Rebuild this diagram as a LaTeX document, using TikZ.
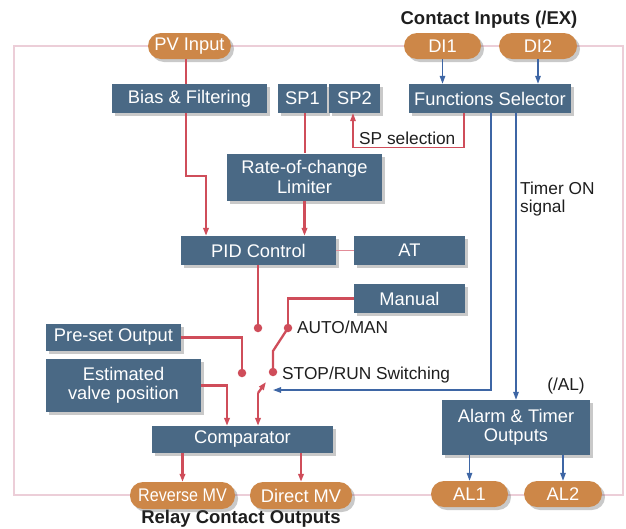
\documentclass[tikz,border=0pt]{standalone}
\usepackage{fontspec}
\setmainfont{Liberation Sans}
\usetikzlibrary{arrows.meta,shadows}
\definecolor{boxc}{RGB}{74,105,133}
\definecolor{pillc}{RGB}{205,135,72}
\definecolor{redc}{RGB}{207,77,90}
\definecolor{pinkc}{RGB}{226,140,152}
\definecolor{bluec}{RGB}{62,102,165}
\definecolor{framec}{RGB}{236,206,216}
\definecolor{labc}{RGB}{30,30,30}
\begin{document}
\begin{tikzpicture}[x=1pt,y=-1pt,
  shad/.style={drop shadow={shadow xshift=3pt,shadow yshift=-3pt,opacity=0.3,fill=black!70}},
  box/.style={shad,fill=boxc,text=white,font=\fontsize{18.3}{19.5}\selectfont,inner sep=0pt,align=center},
  pill/.style={shad,fill=pillc,text=white,font=\fontsize{18.3}{19.5}\selectfont,inner sep=0pt,rounded corners=13pt,minimum height=26pt},
  lab/.style={text=labc,font=\fontsize{17.3}{18}\selectfont,inner sep=0pt},
  ttl/.style={text=labc,font=\fontsize{18.5}{19}\selectfont\bfseries,inner sep=0pt},
  redl/.style={draw=redc,line width=2.3pt},
  redthin/.style={draw=redc,line width=1.4pt},
  pinkl/.style={draw=pinkc,line width=1.4pt},
  bluel/.style={draw=bluec,line width=1.4pt},
  framel/.style={draw=framec,line width=2pt},
  arr/.style={-{Triangle[length=8pt,width=5.5pt]}},
  dotn/.style={circle,fill=redc,inner sep=0pt,minimum size=8.5pt}
]
\useasboundingbox (0,0) rectangle (626,528);
% outer frame
\draw[framel] (14,46) rectangle (623,495);

% titles
\node[ttl] (ci) at (489,20) {Contact Inputs (/EX)};
\node[ttl] (rco) at (241,519) {Relay Contact Outputs};

% pills
\node[pill,minimum width=83pt] (pv) at (189.5,46) {PV Input};
\node[pill,minimum width=77pt] (di1) at (442.5,46) {DI1};
\node[pill,minimum width=78pt] (di2) at (538,46) {DI2};
\node[pill,minimum width=105pt,minimum height=27pt] (rmv) at (182.5,495.5) {\scalebox{0.88}[1]{Reverse MV}};
\node[pill,minimum width=102pt,minimum height=27pt] (dmv) at (301,495.5) {Direct MV};
\node[pill,minimum width=77pt] (al1) at (469.5,494) {AL1};
\node[pill,minimum width=78pt] (al2) at (563,494) {AL2};

% boxes
\node[box,minimum width=155pt,minimum height=29pt] (bias) at (189.5,98.5) {Bias \& Filtering};
\node[box,minimum width=49pt,minimum height=29pt] (sp1) at (302.5,98.5) {SP1};
\node[box,minimum width=51pt,minimum height=29pt] (sp2) at (354.5,98.5) {SP2};
\node[box,minimum width=162pt,minimum height=29pt] (fs) at (490,98.5) {Functions Selector};
\node[box,minimum width=155pt,minimum height=47pt] (roc) at (304.5,177) {Rate-of-change\\Limiter};
\node[box,minimum width=155pt,minimum height=29pt] (pid) at (258.5,250.5) {PID Control};
\node[box,minimum width=111pt,minimum height=29pt] (at) at (409.5,250.5) {AT};
\node[box,minimum width=111pt,minimum height=29pt] (man) at (409.5,298.5) {Manual};
\node[box,minimum width=135pt,minimum height=27pt] (pre) at (113.5,337.5) {Pre-set Output};
\node[box,minimum width=155pt,minimum height=53pt] (est) at (123.5,385.5) {Estimated\\valve position};
\node[box,minimum width=181pt,minimum height=27pt] (comp) at (242.5,439.5) {Comparator};
\node[box,minimum width=148pt,minimum height=55pt] (alarm) at (516,427.5) {Alarm \& Timer\\Outputs};

% labels
\node[lab,anchor=west] (spsel) at (359,138) {SP selection};
\node[lab,anchor=west,align=left] (tmr) at (520,199) {Timer ON\\signal};
\node[lab,anchor=west] (am) at (297,327) {AUTO/MAN};
\node[lab,anchor=west] (sr) at (282,375) {STOP/RUN Switching};
\node[lab] (alx) at (566,386) {(/AL)};

% switch dots
\node[dotn] (d1) at (258,328) {};
\node[dotn] (d2) at (288,328) {};
\node[dotn] (d3) at (242,373) {};
\node[dotn] (d4) at (273,372) {};
\coordinate (sw) at (258,393);
\coordinate (srtip) at (273,390);

% red signal lines
\draw[redl] ([xshift=-3.5pt]pv.south) -- ([xshift=-3.5pt]bias.north);
\draw[redl,arr] ([xshift=-3.5pt]bias.south) -- ++(0,63) -| ([xshift=-52.5pt]pid.north);
\draw[redl] ([xshift=2.5pt]sp1.south) -- ([xshift=2.5pt]sp1.south |- roc.north);
\draw[redl,arr] (roc.south) -- (roc.south |- pid.north);
\draw[pinkl] (pid.east) -- (at.west);
\draw[redthin,arr] ([xshift=-26pt]fs.south) -- ++(0,34) -| ([xshift=-1.5pt]sp2.south);
\draw[redl] (pid.south -| d1) -- (d1.center);
\draw[redl] (man.west) -| (d2.center);
\draw[redl] (d2.center) -- ++(-15,23) -- (d4.center);
\draw[redl] (pre.east) -| (d3.center);
\draw[redl,arr] (sw) -- ++(8,-11);
\draw[redl,arr] (sw) -- (sw |- comp.north);
\draw[redl,arr] (est.east) -| ([xshift=-15.5pt]comp.north);
\draw[redl,arr] (rmv.north |- comp.south) -- (rmv.north);
\draw[redl,arr] (dmv.north |- comp.south) -- (dmv.north);

% blue signal lines
\draw[bluel,arr] (di1.south) -- (di1.south |- fs.north);
\draw[bluel,arr] (di2.south) -- (di2.south |- fs.north);
\draw[bluel,arr] ([xshift=1pt]fs.south) |- (srtip);
\draw[bluel,arr] ([xshift=26pt]fs.south) -- (alarm.north);
\draw[bluel,arr] (al1.north |- alarm.south) -- (al1.north);
\draw[bluel,arr] (al2.north |- alarm.south) -- (al2.north);
\end{tikzpicture}
\end{document}
